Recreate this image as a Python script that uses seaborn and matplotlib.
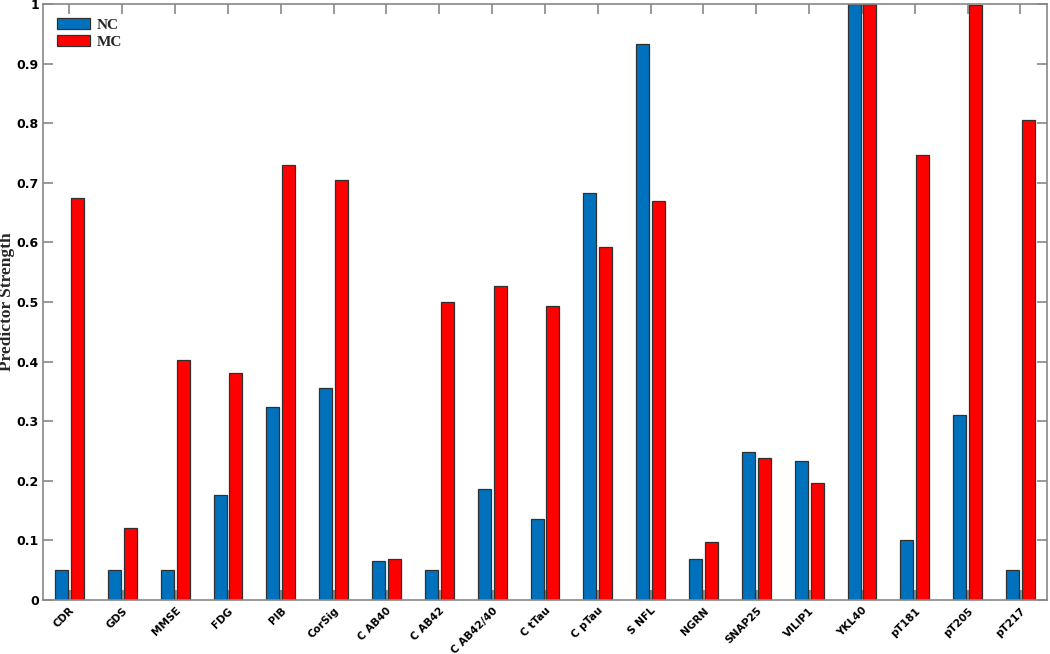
import numpy as np
import pandas as pd
import matplotlib
matplotlib.use("Agg")
import matplotlib.pyplot as plt
import matplotlib.transforms as mtransforms
import seaborn as sns

categories = ["CDR", "GDS", "MMSE", "FDG", "PIB", "CorSig", "C AB40", "C AB42",
              "C AB42/40", "C tTau", "C pTau", "S NFL", "NGRN", "SNAP25",
              "VILIP1", "YKL40", "pT181", "pT205", "pT217"]
nc_values = [0.05, 0.05, 0.05, 0.176, 0.324, 0.355, 0.066, 0.05, 0.186, 0.136,
             0.682, 0.932, 0.069, 0.248, 0.233, 1.0, 0.100, 0.311, 0.05]
mc_values = [0.675, 0.120, 0.403, 0.381, 0.729, 0.704, 0.069, 0.500, 0.527, 0.493,
             0.592, 0.669, 0.098, 0.239, 0.197, 1.0, 0.746, 0.999, 0.806]
base_values = [0.017] * len(categories)
series_names = ["NC", "MC"]
y_ticks = [0, 0.1, 0.2, 0.3, 0.4, 0.5, 0.6, 0.7, 0.8, 0.9, 1]
y_tick_labels = ["0", "0.1", "0.2", "0.3", "0.4", "0.5", "0.6", "0.7", "0.8", "0.9", "1"]

df = pd.DataFrame({
    "cat": categories * 2,
    "group": [series_names[0]] * len(categories) + [series_names[1]] * len(categories),
    "val": nc_values + mc_values,
})

sns.set_style("white")
fig = plt.figure(figsize=(10.5, 6.54), dpi=100)
ax = fig.add_axes([0.041, 0.0826, 0.956, 0.9114])

# faint grey base bar between the pair
ax.bar(np.arange(len(categories)), base_values, width=0.1, color="#a0a0a0",
       edgecolor="none", zorder=0.5)

sns.barplot(data=df, x="cat", y="val", hue="group", order=categories,
            hue_order=series_names, palette=["#0072BD", "#FF0000"],
            width=0.6, gap=0.18, saturation=1, edgecolor="#303030",
            linewidth=0.9, ax=ax, legend=True, zorder=2)

ax.set_xlim(-0.5, len(categories) - 0.5)
ax.set_ylim(0, 1)
ax.set_yticks(y_ticks)
ax.set_yticklabels(y_tick_labels, fontsize=9, fontweight="bold", color="black")
ax.set_xticks(np.arange(len(categories)))
ax.set_xticklabels(categories, rotation=45, ha="right", rotation_mode="anchor",
                   fontsize=7.6, fontweight="bold", color="black")
offset = mtransforms.ScaledTranslation(6 / 100, 4 / 100, fig.dpi_scale_trans)
for lbl in ax.get_xticklabels():
    lbl.set_transform(lbl.get_transform() + offset)
ax.set_xlabel("")
ax.set_ylabel("Predictor Strength", family="Liberation Serif", fontweight="bold",
              fontsize=12.5)
ax.yaxis.label.set_va("center")
ax.yaxis.set_label_coords(-0.036, 0.5)

for s in ax.spines.values():
    s.set_visible(True)
    s.set_color("#888888")
    s.set_linewidth(1.2)
ax.tick_params(axis="both", direction="in", length=7, width=1.2, color="#888888",
               top=True, right=True, bottom=True, left=True, pad=3)
ax.tick_params(axis="x", pad=4)

handles, labels = ax.get_legend_handles_labels()
ax.legend(handles, labels, loc="upper left", frameon=False,
          prop={"family": "Liberation Serif", "weight": "bold", "size": 11},
          handlelength=2.2, handleheight=0.75, labelspacing=0.2,
          handletextpad=0.4, borderaxespad=0.5, bbox_to_anchor=(0.0, 1.0))

fig.savefig("out.png", dpi=100)
